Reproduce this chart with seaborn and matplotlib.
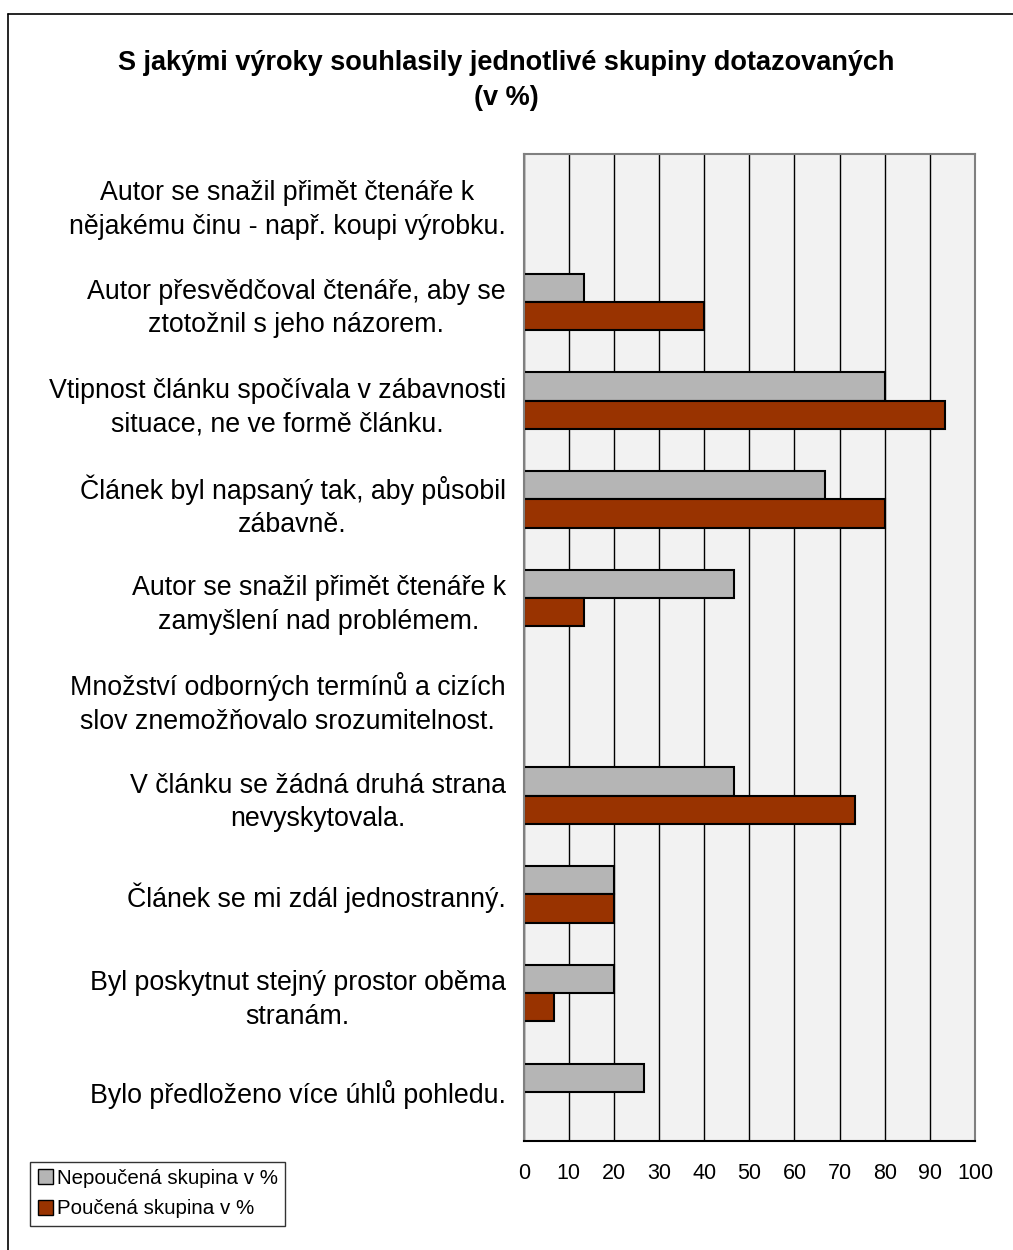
import pandas as pd
import seaborn as sns
import matplotlib.pyplot as plt
from matplotlib.lines import Line2D
from matplotlib.patches import Patch

statements = [
    'Autor se snažil přimět čtenáře k\nnějakému činu - např. koupi výrobku.',
    'Autor přesvědčoval čtenáře, aby se\nztotožnil s jeho názorem.',
    'Vtipnost článku spočívala v zábavnosti\nsituace, ne ve formě článku.',
    'Článek byl napsaný tak, aby působil\nzábavně.',
    'Autor se snažil přimět čtenáře k\nzamyšlení nad problémem.',
    'Množství odborných termínů a cizích\nslov znemožňovalo srozumitelnost.',
    'V článku se žádná druhá strana\nnevyskytovala.',
    'Článek se mi zdál jednostranný.',
    'Byl poskytnut stejný prostor oběma\nstranám.',
    'Bylo předloženo více úhlů pohledu.',
]
nepoucena = [0, 13.3, 80, 66.7, 46.7, 0, 46.7, 20, 20, 26.7]
poucena = [0, 40, 93.3, 80, 13.3, 0, 73.3, 20, 6.7, 0]
groups = ['Nepoučená skupina v %', 'Poučená skupina v %']
colors = ['#b5b5b5', '#993300']
x_ticks = list(range(0, 101, 10))

df = pd.DataFrame({
    'vyrok': statements * 2,
    'skupina': [groups[0]] * len(statements) + [groups[1]] * len(statements),
    'hodnota': nepoucena + poucena,
})

sns.set_style('white')
plt.rcParams['font.family'] = ['Liberation Sans', 'DejaVu Sans']
plt.rcParams['text.color'] = 'black'
plt.rcParams['xtick.labelcolor'] = 'black'
plt.rcParams['ytick.labelcolor'] = 'black'

fig = plt.figure(figsize=(10.13, 12.5), dpi=100)
ax = fig.add_axes([0.517, 0.087, 0.4455, 0.79])
ax.set_facecolor('#f2f2f2')

sns.barplot(data=df, x='hodnota', y='vyrok', hue='skupina', order=statements,
            hue_order=groups, palette=colors, orient='h', width=0.57,
            saturation=1, edgecolor='black', linewidth=1.5, legend=False, ax=ax)

# zero-value bars draw nothing in the original
for p in ax.patches:
    if p.get_width() == 0:
        p.set_linewidth(0)

ax.set_xlim(0, 100)
ax.set_ylim(len(statements) - 0.5, -0.5)
ax.set_xticks(x_ticks)
ax.set_xticklabels([str(t) for t in x_ticks], fontsize=15.5)
ax.xaxis.grid(True, color='black', linewidth=1)
ax.set_axisbelow(True)
ax.set_xlabel('')
ax.set_ylabel('')

ax.set_yticks(range(len(statements)))
ax.set_yticklabels(statements, fontsize=19.3, multialignment='center', linespacing=1.38)
ax.set_yticks([i - 0.5 for i in range(len(statements) + 1)], minor=True)
ax.tick_params(axis='y', which='major', length=0, pad=13)
ax.tick_params(axis='y', which='minor', length=7, width=1, color='#808080', direction='out')
ax.tick_params(axis='x', which='major', length=4, width=1, color='black', direction='out', pad=12)

for s in ['left', 'top', 'right']:
    ax.spines[s].set_color('#808080')
    ax.spines[s].set_linewidth(1.5)
ax.spines['bottom'].set_color('black')
ax.spines['bottom'].set_linewidth(1.5)

fig.text(0.5, 0.960, 'S jakými výroky souhlasily jednotlivé skupiny dotazovaných\n(v %)',
         ha='center', va='top', fontsize=19.5, fontweight='bold', linespacing=1.45)

handles = [Patch(facecolor=c, edgecolor='black', linewidth=1) for c in colors]
fig.legend(handles, groups, loc='upper left', bbox_to_anchor=(0.03, 0.0705),
           fontsize=14.8, frameon=True, fancybox=False, edgecolor='black',
           handlelength=0.75, handleheight=0.75, handletextpad=0.2,
           borderpad=0.35, labelspacing=0.55, borderaxespad=0)

# outer chart frame (only top and left are inside the picture)
fig.add_artist(Line2D([0.008, 1.0], [0.989, 0.989], color='black', linewidth=1.2,
                      transform=fig.transFigure))
fig.add_artist(Line2D([0.008, 0.008], [0.0, 0.989], color='black', linewidth=1.2,
                      transform=fig.transFigure))

fig.savefig('out.png', dpi=100)
